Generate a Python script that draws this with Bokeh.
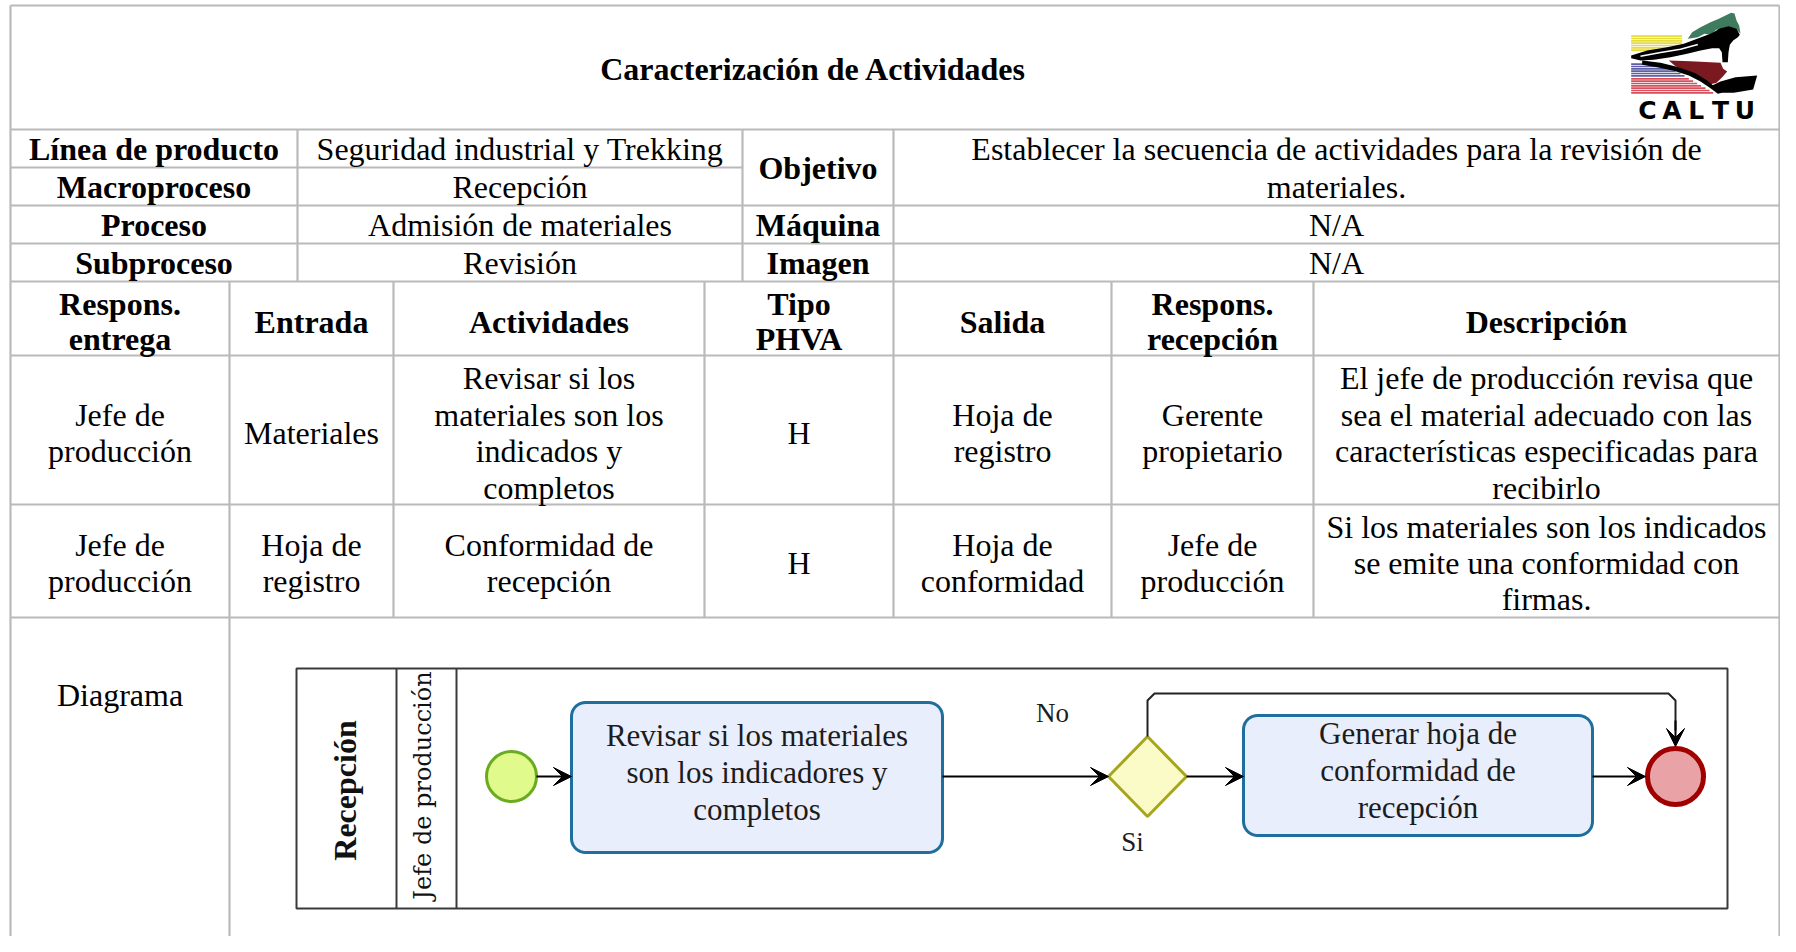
import numpy as np
from bokeh.plotting import figure
from bokeh.models import Range1d, Arrow, VeeHead
from bokeh.core.properties import value
from bokeh.embed import file_html
from bokeh.resources import INLINE

# ---------------- content ----------------
title = "Caracterización de Actividades"
info_labels = ["Línea de producto", "Macroproceso", "Proceso", "Subproceso"]
info_values = ["Seguridad industrial y Trekking", "Recepción", "Admisión de materiales", "Revisión"]
side_labels = ["Objetivo", "Máquina", "Imagen"]
side_values = [["Establecer la secuencia de actividades para la revisión de", "materiales."], ["N/A"], ["N/A"]]
headers = [["Respons.", "entrega"], ["Entrada"], ["Actividades"], ["Tipo", "PHVA"],
           ["Salida"], ["Respons.", "recepción"], ["Descripción"]]
row1 = [["Jefe de", "producción"], ["Materiales"],
        ["Revisar si los", "materiales son los", "indicados y", "completos"], ["H"],
        ["Hoja de", "registro"], ["Gerente", "propietario"],
        ["El jefe de producción revisa que", "sea el material adecuado con las",
         "características especificadas para", "recibirlo"]]
row2 = [["Jefe de", "producción"], ["Hoja de", "registro"], ["Conformidad de", "recepción"], ["H"],
        ["Hoja de", "conformidad"], ["Jefe de", "producción"],
        ["Si los materiales son los indicados", "se emite una conformidad con", "firmas."]]
diagram_label = "Diagrama"
pool_name = "Recepción"
lane_name = "Jefe de producción"
task_texts = [["Revisar si los materiales", "son los indicadores y", "completos"],
              ["Generar hoja de", "conformidad de", "recepción"]]
gateway_labels = ["No", "Si"]
logo_letters = ["C", "A", "L", "T", "U"]

# ---------------- layout ----------------
W, H = 1780, 936
XL, XR, YT, YB = 10, 1779, 5, 940
Y_TITLE = 129
info_rows = [129, 167, 205, 243, 281]
info_cols = [XL, 297, 742, 893, XR]
data_rows = [281, 355, 504, 617]
data_cols = [XL, 229, 393, 704, 893, 1111, 1313, XR]

SERIF = value("Liberation Serif")
GRID = "#bababa"

p = figure(width=W, height=H, x_range=Range1d(0, W), y_range=Range1d(H, 0),
           output_backend="svg", toolbar_location=None, min_border=0,
           x_axis_location=None, y_axis_location=None)
p.xgrid.visible = False
p.ygrid.visible = False
p.outline_line_color = None
p.background_fill_color = "white"

# ---- table lines ----
x0, y0, x1, y1 = [], [], [], []
def seg(a, b, c, d):
    x0.append(a); y0.append(b); x1.append(c); y1.append(d)

seg(XL, YT, XR, YT)
seg(XL, Y_TITLE, XR, Y_TITLE)
seg(XL, info_rows[1], info_cols[2], info_rows[1])
for yy in info_rows[2:]:
    seg(XL, yy, XR, yy)
for yy in data_rows[1:]:
    seg(XL, yy, XR, yy)
seg(XL, YT, XL, YB)
seg(XR, YT, XR, YB)
for xx in info_cols[1:-1]:
    seg(xx, info_rows[0], xx, info_rows[-1])
for xx in data_cols[2:-1]:
    seg(xx, data_rows[0], xx, data_rows[-1])
seg(data_cols[1], data_rows[0], data_cols[1], YB)
p.segment(x0, y0, x1, y1, line_color=GRID, line_width=2.2)

# ---- text helpers ----
groups = {}
def put(lines, cx, cy, spacing, key):
    n = len(lines)
    for i, t in enumerate(lines):
        g = groups.setdefault(key, ([], [], []))
        g[0].append(cx)
        g[1].append(cy + (i - (n - 1) / 2) * spacing)
        g[2].append(t)

def mid(a, b):
    return (a + b) / 2

put([title], 813, 68, 0, "bold")
for i in range(4):
    cy = mid(info_rows[i], info_rows[i + 1])
    put([info_labels[i]], mid(info_cols[0], info_cols[1]), cy, 0, "bold")
    put([info_values[i]], mid(info_cols[1], info_cols[2]), cy, 0, "reg")
put([side_labels[0]], mid(info_cols[2], info_cols[3]), mid(info_rows[0], info_rows[2]), 0, "bold")
put(side_values[0], mid(info_cols[3], info_cols[4]), mid(info_rows[0], info_rows[2]), 38, "reg")
for k in (1, 2):
    cy = mid(info_rows[k + 1], info_rows[k + 2])
    put([side_labels[k]], mid(info_cols[2], info_cols[3]), cy, 0, "bold")
    put(side_values[k], mid(info_cols[3], info_cols[4]), cy, 0, "reg")
for j in range(7):
    cx = mid(data_cols[j], data_cols[j + 1])
    put(headers[j], cx, mid(data_rows[0], data_rows[1]) + 3, 35, "bold")
    put(row1[j], cx, mid(data_rows[1], data_rows[2]) + 3, 36.5, "reg")
    put(row2[j], cx, mid(data_rows[2], data_rows[3]) + 2, 36, "reg")
put([diagram_label], mid(data_cols[0], data_cols[1]), 694, 0, "reg")

styles = {
    "bold": dict(text_font_size="32px", text_font_style="bold"),
    "reg": dict(text_font_size="32px", text_font_style="normal"),
}
for key, (xs, ys, ts) in groups.items():
    p.text(xs, ys, text=ts, text_align="center", text_baseline="middle",
           text_font=SERIF, text_color="black", **styles[key])

# ---------------- diagram ----------------
POOL = (296, 668, 1727, 908)
POOL_DIV = [396, 456]
MIDY = 776
start_c = (511, MIDY, 25)
task_boxes = [(571, 702, 942, 852), (1243, 715, 1592, 835)]
gate = (1147, MIDY, 39, 40)
end_c = (1675, MIDY, 30)
loop_y = 693

pool_col = "#3a3a3a"
p.quad(left=[POOL[0]], right=[POOL[2]], top=[POOL[1]], bottom=[POOL[3]],
       fill_color=None, line_color=pool_col, line_width=2)
p.segment(POOL_DIV, [POOL[1]] * 2, POOL_DIV, [POOL[3]] * 2, line_color=pool_col, line_width=2)
p.text([mid(POOL[0], POOL_DIV[0]) - 2], [790], text=[pool_name],
       angle=np.pi / 2, text_align="center", text_baseline="middle", text_font=SERIF,
       text_font_size="32px", text_font_style="bold", text_color="#111")
p.text([mid(POOL_DIV[0], POOL_DIV[1]) - 4], [785], text=[lane_name],
       angle=np.pi / 2, text_align="center", text_baseline="middle", text_font=value("DejaVu Serif"),
       text_font_size="24px", text_color="#111")

def rounded(xa, ya, xb, yb, r, n=10):
    xs, ys = [], []
    corners = [(xb - r, ya + r, -np.pi / 2, 0), (xb - r, yb - r, 0, np.pi / 2),
               (xa + r, yb - r, np.pi / 2, np.pi), (xa + r, ya + r, np.pi, 1.5 * np.pi)]
    for cx, cy, t0, t1 in corners:
        t = np.linspace(t0, t1, n)
        xs += list(cx + r * np.cos(t))
        ys += list(cy + r * np.sin(t))
    return xs, ys

for (xa, ya, xb, yb), lines in zip(task_boxes, task_texts):
    rx, ry = rounded(xa, ya, xb, yb, 14)
    p.patch(rx, ry, fill_color="#e9eefc", line_color="#1f6f9e", line_width=3)
    tx = [mid(xa, xb)] * len(lines)
    ty = [mid(ya, yb) - 5 + (i - (len(lines) - 1) / 2) * 37 for i in range(len(lines))]
    p.text(tx, ty, text=lines, text_align="center", text_baseline="middle", text_font=SERIF,
           text_font_size="31px", text_color="#1c1c1c")

p.circle([start_c[0]], [start_c[1]], radius=start_c[2], fill_color="#e0fa8c",
         line_color="#6aab1f", line_width=3)
p.circle([end_c[0]], [end_c[1]], radius=end_c[2] - 2, fill_color="#e9a3a6",
         line_color="#a00000", line_width=5)
gx, gy, ghw, ghh = gate
p.patch([gx - ghw, gx, gx + ghw, gx], [gy, gy - ghh, gy, gy + ghh],
        fill_color="#fbfbc8", line_color="#a6a61e", line_width=3)
p.text([1052, 1132], [712, 841], text=gateway_labels, text_align="center", text_baseline="middle",
       text_font=SERIF, text_font_size="27px", text_color="#1c1c1c")

def arrow(xs, ys, xe, ye):
    p.add_layout(Arrow(end=VeeHead(size=18, fill_color="black", line_color="black", line_width=1),
                       x_start=xs, y_start=ys, x_end=xe, y_end=ye,
                       line_color="black", line_width=2))

arrow(start_c[0] + start_c[2], MIDY, task_boxes[0][0], MIDY)
arrow(task_boxes[0][2], MIDY, gx - ghw, MIDY)
arrow(gx + ghw, MIDY, task_boxes[1][0], MIDY)
arrow(task_boxes[1][2], MIDY, end_c[0] - end_c[2], MIDY)
p.line([gx, gx, gx + 7, end_c[0] - 7, end_c[0], end_c[0]],
       [gy - ghh, loop_y + 7, loop_y, loop_y, loop_y + 7, 730], line_color="#222", line_width=2)
arrow(end_c[0], 720, end_c[0], MIDY - end_c[2])

# ---------------- logo (decoration, logo-local units) ----------------
LX, LY, LS = 1610, 5, 1 / 3.0
def L(us, vs):
    return [LX + u * LS for u in us], [LY + v * LS for v in vs]

yellow_v = [92, 99, 106, 113, 120, 127, 134]
yellow_end = [215, 215, 215, 215, 215, 215, 215]
blue_v = [176, 183, 190, 197, 204, 211]
blue_end = [150, 165, 180, 195, 210, 222]
red_v = [220, 227, 234, 241, 248, 255, 262]
red_end = [235, 248, 260, 272, 285, 297, 308]
for vs, ends, col in [(yellow_v, yellow_end, "#e6dc3c"), (blue_v, blue_end, "#5d60a8"),
                      (red_v, red_end, "#d9505c")]:
    for v, e in zip(vs, ends):
        xs, ys = L([62, e], [v, v])
        p.line(xs, ys, line_color=col, line_width=1.6)

green_u = [232, 245, 270, 300, 325, 345, 362, 372, 378, 386, 390, 378, 365, 352, 338, 318, 300, 282, 262]
green_v = [100, 80, 65, 50, 40, 30, 22, 24, 45, 60, 85, 72, 78, 65, 78, 72, 88, 85, 95]
xs, ys = L(green_u, green_v)
p.patch(xs, ys, fill_color="#3f7c5f", line_color=None)

maroon_u = [175, 240, 300, 330, 338, 350, 335, 318, 295, 270, 235, 195]
maroon_v = [165, 167, 170, 172, 190, 198, 215, 232, 238, 218, 198, 182]
xs, ys = L(maroon_u, maroon_v)
p.patch(xs, ys, fill_color="#7a1a20", line_color=None)

band_u = [95, 150, 205, 255, 290, 318, 335, 322, 300, 270, 235, 190, 140, 95]
band_v = [165, 172, 185, 203, 225, 248, 262, 265, 248, 228, 210, 196, 185, 178]
xs, ys = L(band_u, band_v)
p.patch(xs, ys, fill_color="black", line_color=None)

lower_u = [300, 330, 375, 440, 428, 370, 322]
lower_v = [242, 228, 215, 210, 252, 262, 262]
xs, ys = L(lower_u, lower_v)
p.patch(xs, ys, fill_color="black", line_color=None)

shoe_u = [62, 110, 170, 220, 260, 300, 330, 355, 378, 388, 382, 368, 358, 354, 352, 336, 334, 326,
          305, 270, 230, 180, 130, 90, 62]
shoe_v = [150, 135, 125, 115, 100, 85, 68, 62, 70, 88, 95, 105, 118, 140, 170, 170, 140, 128,
          128, 135, 145, 155, 163, 165, 158]
xs, ys = L(shoe_u, shoe_v)
p.patch(xs, ys, fill_color="black", line_color=None)
xs, ys = L([90, 150, 210, 262], [152, 141, 131, 117])
p.line(xs, ys, line_color="white", line_width=1.5)

letter_u = [111, 184, 257, 330, 403]
xs, ys = L(letter_u, [314] * 5)
p.text(xs, ys, text=logo_letters, text_align="center", text_baseline="middle",
       text_font=value("DejaVu Sans"), text_font_size="25px", text_font_style="bold", text_color="black")

open("out.html", "w").write(file_html(p, INLINE))
